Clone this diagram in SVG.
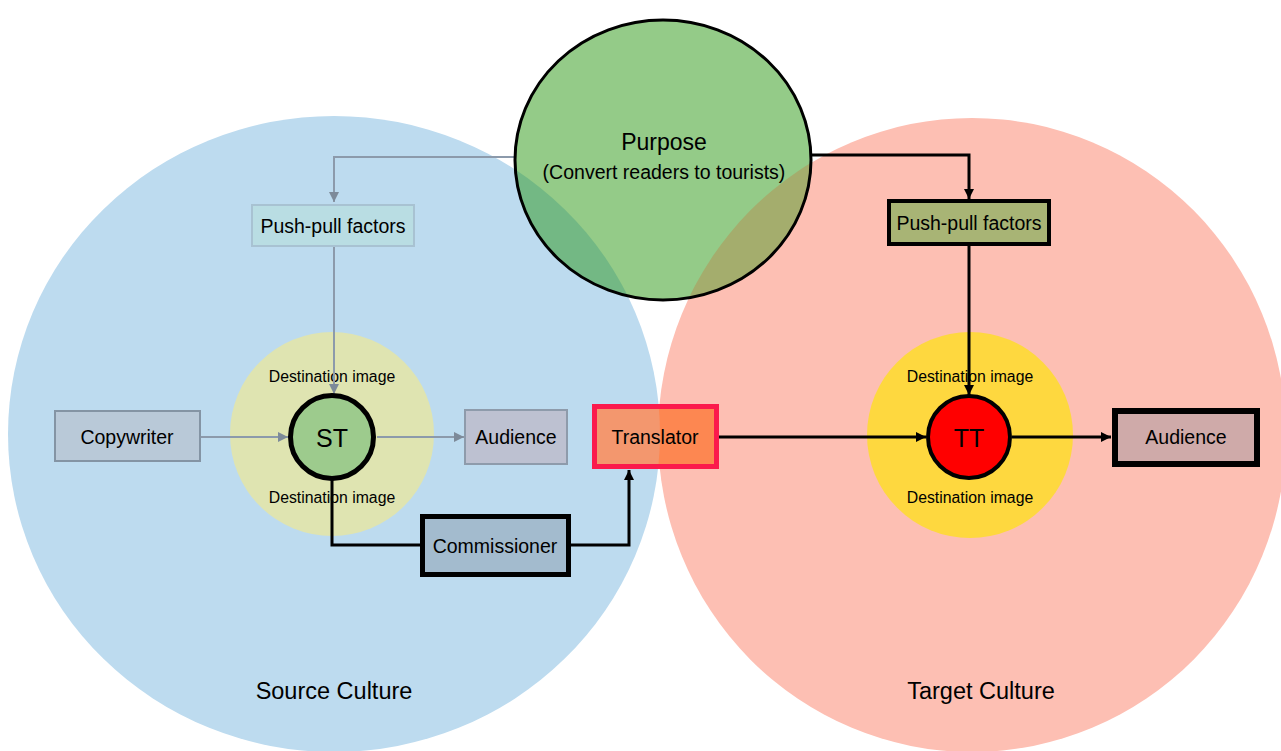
<svg xmlns="http://www.w3.org/2000/svg" width="1281" height="751" viewBox="0 0 1281 751">
<style>
  text { font-family: "Liberation Sans", Arial, sans-serif; fill: #000; text-anchor: middle; dominant-baseline: central; }
  .box { font-size: 19.5px; }
  .title { font-size: 23.5px; }
  .dest { font-size: 15.8px; }
  .gray { fill: none; stroke: #8c9aab; stroke-width: 2; }
  .blk { fill: none; stroke: #000; stroke-width: 3; }
</style>
<defs>
  <clipPath id="blueClip"><ellipse cx="334" cy="434" rx="326" ry="318"/></clipPath>
  <clipPath id="pinkClip"><ellipse cx="972" cy="435" rx="314" ry="317"/></clipPath>
  <clipPath id="purposeClip"><ellipse cx="663" cy="160" rx="148" ry="140"/></clipPath>
  <marker id="ag" markerUnits="userSpaceOnUse" markerWidth="12" markerHeight="12" refX="10" refY="6" orient="auto">
    <path d="M0,1 L10,6 L0,11 Z" fill="#7d8a99"/>
  </marker>
  <marker id="ab" markerUnits="userSpaceOnUse" markerWidth="12" markerHeight="12" refX="10" refY="6" orient="auto">
    <path d="M0,1 L10,6 L0,11 Z" fill="#000"/>
  </marker>
</defs>
<rect width="1281" height="751" fill="#ffffff"/>

<g id="source-culture">
  <ellipse cx="334" cy="434" rx="326" ry="318" fill="#bddbef"/>
  <text class="title" x="334" y="691">Source Culture</text>
</g>
<g id="target-culture">
  <ellipse cx="972" cy="435" rx="314" ry="317" fill="#fdbfb3"/>
  <text class="title" x="981" y="691">Target Culture</text>
</g>

<g id="source-destination-image">
  <circle cx="332" cy="434" r="102" fill="#dfe4b1"/>
  <text class="dest" x="332" y="376">Destination image</text>
  <text class="dest" x="332" y="497">Destination image</text>
</g>
<g id="target-destination-image">
  <circle cx="970" cy="435" r="103" fill="#fed83f"/>
  <text class="dest" x="970" y="376">Destination image</text>
  <text class="dest" x="970" y="497">Destination image</text>
</g>

<g id="connectors">
  <path class="gray" d="M516,157 H334 V202" marker-end="url(#ag)"/>
  <path class="gray" d="M334,247 V394" marker-end="url(#ag)"/>
  <path class="gray" d="M201,437 H288" marker-end="url(#ag)"/>
  <path class="gray" d="M377,437 H464" marker-end="url(#ag)"/>
  <path class="blk" d="M332,480 V545 H421"/>
  <path class="blk" d="M570,545 H629 V470" marker-end="url(#ab)"/>
  <path class="blk" d="M719,437 H926" marker-end="url(#ab)"/>
  <path class="blk" d="M1012,437 H1111" marker-end="url(#ab)"/>
  <path class="blk" d="M810,155 H969 V199" marker-end="url(#ab)"/>
  <path class="blk" d="M969,246 V395" marker-end="url(#ab)"/>
</g>

<g id="purpose">
  <ellipse cx="663" cy="160" rx="148" ry="140" fill="#94cb88"/>
  <g clip-path="url(#purposeClip)">
    <ellipse cx="334" cy="434" rx="326" ry="318" fill="#73b884"/>
    <ellipse cx="972" cy="435" rx="314" ry="317" fill="#a4ad6d"/>
  </g>
  <ellipse cx="663" cy="160" rx="148" ry="140" fill="none" stroke="#000" stroke-width="3"/>
  <text x="664" y="142" style="font-size:23px">Purpose</text>
  <text x="664" y="172" style="font-size:19.5px">(Convert readers to tourists)</text>
</g>

<g id="push-pull-source">
  <rect x="252" y="205" width="162" height="41" fill="#b9dde3" stroke="#a8c2d2" stroke-width="2"/>
  <text class="box" x="333" y="226">Push-pull factors</text>
</g>
<g id="push-pull-target">
  <rect x="889" y="201" width="160" height="43" fill="#a8b475" stroke="#000" stroke-width="4"/>
  <text class="box" x="969" y="223">Push-pull factors</text>
</g>
<g id="copywriter">
  <rect x="55" y="411" width="145" height="50" fill="#b9c9d8" stroke="#8494a4" stroke-width="2"/>
  <text class="box" x="127" y="437">Copywriter</text>
</g>
<g id="st">
  <circle cx="332" cy="437" r="41.5" fill="#9dcb8d" stroke="#000" stroke-width="5"/>
  <text x="332" y="438" style="font-size:25px">ST</text>
</g>
<g id="audience-source">
  <rect x="465" y="410" width="102" height="54" fill="#bdc1d1" stroke="#8e9bab" stroke-width="2"/>
  <text class="box" x="516" y="437">Audience</text>
</g>
<g id="commissioner">
  <rect x="422.5" y="516.5" width="146" height="58" fill="#a3bbce" stroke="#000" stroke-width="5"/>
  <text class="box" x="495" y="546">Commissioner</text>
</g>
<g id="translator">
  <rect x="594.5" y="406.5" width="122" height="60" fill="#fd8751"/>
  <rect x="594.5" y="406.5" width="122" height="60" fill="#f3976e" clip-path="url(#blueClip)"/>
  <rect x="594.5" y="406.5" width="122" height="60" fill="none" stroke="#fb1a4c" stroke-width="5"/>
  <text class="box" x="655" y="437">Translator</text>
</g>
<g id="tt">
  <circle cx="969" cy="437" r="41" fill="#ff0000" stroke="#000" stroke-width="4"/>
  <text x="969" y="438" style="font-size:25px">TT</text>
</g>
<g id="audience-target">
  <rect x="1115" y="411" width="142" height="53" fill="#cfaaa9" stroke="#000" stroke-width="6"/>
  <text class="box" x="1186" y="437">Audience</text>
</g>
</svg>
